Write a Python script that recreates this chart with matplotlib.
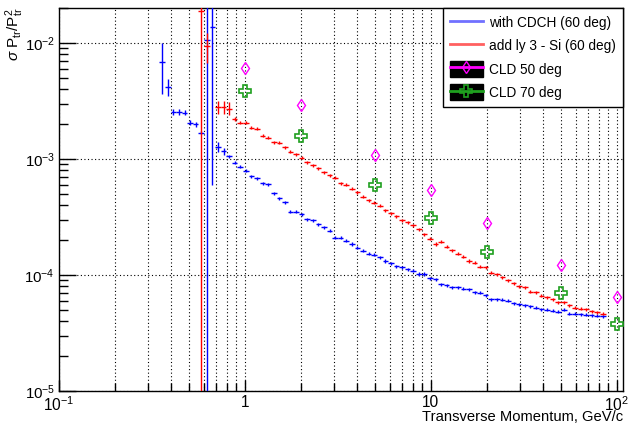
import numpy as np
import matplotlib
matplotlib.use("Agg")
import matplotlib.pyplot as plt
from matplotlib.lines import Line2D
from matplotlib.patches import Patch
from matplotlib.legend_handler import HandlerTuple
from matplotlib.ticker import FixedLocator, FixedFormatter, NullFormatter

plt.rcParams['font.family'] = ['Liberation Sans', 'DejaVu Sans']
plt.rcParams['mathtext.fontset'] = 'custom'
plt.rcParams['mathtext.rm'] = 'Liberation Sans'
plt.rcParams['mathtext.it'] = 'Liberation Sans:italic'
plt.rcParams['mathtext.sf'] = 'Liberation Sans'

# histogram binning: 100 log bins from 0.1 to 100 GeV/c
bin_edges = np.logspace(-1, 2, 101)

# with CDCH (60 deg), starts at bin 18
cdch_first = 18
cdch_vals = [6.8e-3, 4.2e-3, 2.53e-3, 2.53e-3, 2.5e-3, 2.05e-3, 2.0e-3, 1.68e-3,
             1.05e-2, 1.37e-2, 1.27e-3, 1.17e-3, 1.06e-3, 9.25e-4, 8.6e-4, 7.9e-4,
             7.1e-4, 6.8e-4, 6.2e-4, 6.03e-4, 5.04e-4, 4.57e-4, 4.22e-4, 3.5e-4,
             3.5e-4, 3.35e-4, 3.03e-4, 2.96e-4, 2.73e-4, 2.57e-4, 2.4e-4, 2.1e-4,
             2.1e-4, 1.97e-4, 1.85e-4, 1.71e-4, 1.62e-4, 1.52e-4, 1.5e-4, 1.42e-4,
             1.32e-4, 1.26e-4, 1.19e-4, 1.17e-4, 1.12e-4, 1.09e-4, 1.02e-4, 1.02e-4,
             9.35e-5, 9.2e-5, 8.3e-5, 8.15e-5, 7.8e-5, 7.8e-5, 7.6e-5, 7.5e-5,
             7.1e-5, 7.0e-5, 6.67e-5, 6.2e-5, 6.2e-5, 6.1e-5, 6.0e-5, 5.7e-5,
             5.6e-5, 5.5e-5, 5.37e-5, 5.2e-5, 5.06e-5, 5.0e-5, 4.9e-5, 4.8e-5,
             5.0e-5, 4.63e-5, 4.65e-5, 4.6e-5, 4.55e-5, 4.5e-5, 4.45e-5, 4.4e-5]
cdch_errs_first = [3.2e-3, 0.7e-3, 0.15e-3, 0.15e-3, 0.12e-3, 0.1e-3, 0.1e-3, 0.05e-3,
                   1.5e-2, 1.31e-2, 0.12e-3, 0.08e-3]

# add ly 3 - Si (60 deg), starts at bin 25
si_first = 25
si_vals = [1.9e-2, 9.4e-3, np.nan, 2.78e-3, 2.8e-3, 2.72e-3, 2.22e-3, 2.05e-3,
           2.05e-3, 1.86e-3, 1.82e-3, 1.58e-3, 1.53e-3, 1.4e-3, 1.38e-3, 1.26e-3,
           1.15e-3, 1.1e-3, 1.02e-3, 9.4e-4, 8.85e-4, 8.3e-4, 7.7e-4, 7.25e-4,
           6.9e-4, 6.2e-4, 6.0e-4, 5.53e-4, 5.15e-4, 4.72e-4, 4.42e-4, 4.21e-4,
           3.94e-4, 3.6e-4, 3.41e-4, 3.2e-4, 2.96e-4, 2.84e-4, 2.67e-4, 2.47e-4,
           2.25e-4, 2.06e-4, 1.85e-4, 1.94e-4, 1.75e-4, 1.63e-4, 1.52e-4, 1.43e-4,
           1.32e-4, 1.27e-4, 1.18e-4, 1.16e-4, 1.05e-4, 1.01e-4, 9.6e-5, 9.0e-5,
           8.5e-5, 8.0e-5, 7.8e-5, 7.2e-5, 7.1e-5, 6.6e-5, 6.4e-5, 6.2e-5,
           5.85e-5, 5.85e-5, 5.47e-5, 5.23e-5, 5.12e-5, 5.06e-5, 4.85e-5, 4.75e-5,
           4.65e-5]
si_errs_first = [2.5e-2, 2.7e-3, 0.0, 3.5e-4, 3.5e-4, 3.5e-4, 1.0e-4]

rel_err = 0.03  # typical size of the small error bars

# CLD graphs
cld_pt = [1, 2, 5, 10, 20, 50, 100]
cld50 = [6.1e-3, 2.94e-3, 1.08e-3, 5.45e-4, 2.82e-4, 1.22e-4, 6.4e-5]
cld70 = [3.84e-3, 1.58e-3, 5.94e-4, 3.07e-4, 1.57e-4, 6.93e-5, 3.76e-5]


def hist_points(first, vals, errs_first):
    vals = np.array(vals)
    idx = np.arange(first, first + len(vals))
    lo = bin_edges[idx]
    hi = bin_edges[idx + 1]
    xc = np.sqrt(lo * hi)
    err = vals * rel_err
    err[:len(errs_first)] = errs_first
    return xc, vals, [xc - lo, hi - xc], err


fig = plt.figure(figsize=(6.3, 4.25), dpi=100)
ax = fig.add_axes([59 / 630, 34 / 425, 564 / 630, 383 / 425])
ax.set_xscale('log')
ax.set_yscale('log')
ax.set_xlim(0.1, 108)
ax.set_ylim(1e-5, 0.02)

dot = (0, (1, 2.2))
ax.grid(True, which='both', axis='x', color='black', ls=dot, lw=0.8)
ax.grid(True, which='major', axis='y', color='black', ls=dot, lw=0.8)
ax.grid(False, which='minor', axis='y')
ax.set_axisbelow(True)

xc, v, xe, ye = hist_points(cdch_first, cdch_vals, cdch_errs_first)
ax.errorbar(xc, v, xerr=xe, yerr=ye, fmt='none', ecolor='blue', elinewidth=1.0,
            capsize=0, zorder=3)
xc, v, xe, ye = hist_points(si_first, si_vals, si_errs_first)
ax.errorbar(xc, v, xerr=xe, yerr=ye, fmt='none', ecolor='red', elinewidth=1.0,
            capsize=0, zorder=3)

ax.plot(cld_pt, cld50, ls='none', marker='d', ms=6.5, mfc='none', mec='magenta',
        mew=1.0, zorder=4)
ax.plot(cld_pt, cld70, ls='none', marker='P', ms=9, mfc='none', mec='#1fa01f',
        mew=1.2, zorder=4)

# ticks in ROOT style
ax.xaxis.set_major_locator(FixedLocator([0.1, 1, 10, 100]))
ax.xaxis.set_major_formatter(FixedFormatter([r'$10^{-1}$', '1', '10', r'$10^{2}$']))
xminor = [m * 10.0 ** e for e in (-1, 0, 1) for m in range(2, 10)]
ax.xaxis.set_minor_locator(FixedLocator(xminor))
ax.xaxis.set_minor_formatter(NullFormatter())
ax.yaxis.set_major_locator(FixedLocator([1e-5, 1e-4, 1e-3, 1e-2]))
ax.yaxis.set_major_formatter(FixedFormatter([r'$10^{-5}$', r'$10^{-4}$',
                                             r'$10^{-3}$', r'$10^{-2}$']))
yminor = [m * 10.0 ** e for e in (-5, -4, -3, -2) for m in range(2, 10)]
ax.yaxis.set_minor_locator(FixedLocator([t for t in yminor if t <= 0.02]))
ax.yaxis.set_minor_formatter(NullFormatter())

ax.tick_params(axis='x', which='major', direction='in', length=8, width=1, pad=3,
               labelsize=11.2)
ax.tick_params(axis='x', which='minor', direction='in', length=5.5, width=1)
ax.tick_params(axis='y', which='major', direction='in', length=12, width=1, pad=3,
               labelsize=10.8)
ax.tick_params(axis='y', which='minor', direction='in', length=6.5, width=1)
for s in ax.spines.values():
    s.set_linewidth(1)
    s.set_color('black')

fig.text(623 / 630, 1 / 425, 'Transverse Momentum, GeV/c', ha='right', va='bottom',
         fontsize=10.6)
fig.text(15 / 630, 418 / 425,
         r'$\sigma\ \mathrm{P}_{\mathrm{tr}}/\mathrm{P}^{2}_{\mathrm{tr}}$',
         rotation=90, ha='center', va='top', fontsize=11)

handles = [
    Line2D([], [], color='#7070ff', lw=2),
    Line2D([], [], color='#ff6060', lw=2),
    (Patch(facecolor='black', edgecolor='black'),
     Line2D([], [], color='magenta', lw=2, marker='d', ms=6.5, mfc='none',
            mec='magenta', mew=1.0)),
    (Patch(facecolor='black', edgecolor='black'),
     Line2D([], [], color='#1fa01f', lw=2, marker='P', ms=9, mfc='none',
            mec='#1fa01f', mew=1.2)),
]
labels = ['with CDCH (60 deg)', 'add ly 3 - Si (60 deg)', 'CLD 50 deg', 'CLD 70 deg']
leg = fig.legend(handles, labels, loc='upper right',
                 bbox_to_anchor=(623 / 630, 417 / 425), fontsize=9.8,
                 handler_map={tuple: HandlerTuple(ndivide=1)},
                 frameon=True, fancybox=False, edgecolor='black', framealpha=1,
                 handlelength=2.4, handleheight=1.4, labelspacing=0.55,
                 borderpad=0.5, handletextpad=0.5, borderaxespad=0)
leg.get_frame().set_linewidth(1)

fig.savefig('out.png', dpi=100)
